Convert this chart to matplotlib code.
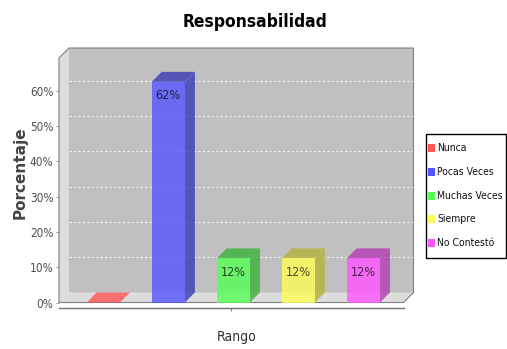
import os
import matplotlib
matplotlib.use("Agg")
import matplotlib.pyplot as plt
from matplotlib.patches import Rectangle, Polygon
import matplotlib.colors as mcolors
import matplotlib.font_manager as fm
import warnings
warnings.filterwarnings("ignore")

# ---- data ----
title = "Responsabilidad"
categories = ["Nunca", "Pocas Veces", "Muchas Veces", "Siempre", "No Contestó"]
values = [0, 62.5, 12.5, 12.5, 12.5]
labels = ["", "62%", "12%", "12%", "12%"]
colors = ["#ff5555", "#5555ff", "#55ff55", "#ffff55", "#ff55ff"]
yticks = [0, 10, 20, 30, 40, 50, 60]
ytick_labels = ["0%", "10%", "20%", "30%", "40%", "50%", "60%"]
xlabel = "Rango"
ylabel = "Porcentaje"

# ---- font selection (narrow face if available) ----
_files = []
try:
    _files += list(fm.findSystemFonts())
except Exception:
    pass
_files += [f.fname for f in fm.fontManager.ttflist]

def pick(cands):
    for c in cands:
        for p in _files:
            if os.path.basename(p).lower() == c.lower():
                return p
    return None

narrow_reg = pick(["LiberationSansNarrow-Regular.ttf", "DejaVuSansCondensed.ttf"])
narrow_bold = pick(["LiberationSansNarrow-Bold.ttf", "DejaVuSansCondensed-Bold.ttf"])
scale = 1.0 if narrow_reg else 0.9

def nfont(size, bold=False):
    p = narrow_bold if bold else narrow_reg
    if p:
        return fm.FontProperties(fname=p, size=size)
    return fm.FontProperties(family=["Liberation Sans", "DejaVu Sans"], size=size * scale,
                             weight="bold" if bold else "normal")

W, H = 507, 349
fig = plt.figure(figsize=(W / 100, H / 100), dpi=100)
fig.patch.set_facecolor("white")

def fx(px):
    return px / W

def fy(py):
    return 1 - py / H

# front plot area in pixels
left_px, right_px = 59, 403.5
zero_px, top_px = 302.5, 58
ax = fig.add_axes([fx(left_px), fy(zero_px), fx(right_px - left_px), (zero_px - top_px) / H])
step = 65.0
c0 = 103.3
xmin = (left_px - c0) / step
xmax = (len(values) - 1) + (right_px - (c0 + step * (len(values) - 1))) / step
ymax = (zero_px - top_px) / 3.53
ax.set_xlim(xmin, xmax)
ax.set_ylim(0, ymax)
ax.patch.set_visible(False)

dx = 10 / step
dy = 10 / 3.53
bw = 33.3 / step

wall = "#dddddd"
back = "#c0c0c0"
outline = "#808080"

# back wall
ax.add_patch(Rectangle((xmin + dx, dy), xmax - xmin, ymax, facecolor=back,
                       edgecolor="none", clip_on=False, zorder=0))
# left side wall
ax.add_patch(Polygon([(xmin, 0), (xmin, ymax), (xmin + dx, ymax + dy), (xmin + dx, dy)],
                     closed=True, facecolor=wall, edgecolor="none", clip_on=False, zorder=0))
# floor
ax.add_patch(Polygon([(xmin, 0), (xmax, 0), (xmax + dx, dy), (xmin + dx, dy)],
                     closed=True, facecolor=wall, edgecolor="none", clip_on=False, zorder=0))
# gridlines on back wall
for t in yticks[1:]:
    ax.plot([xmin + dx, xmax + dx], [t + dy, t + dy], color="#f4f4f4", lw=0.8,
            linestyle=(0, (2, 2)), clip_on=False, zorder=1)
# outline
ax.add_patch(Polygon([(xmin, 0), (xmin, ymax), (xmin + dx, ymax + dy), (xmax + dx, ymax + dy),
                      (xmax + dx, dy), (xmax, 0)], closed=True, facecolor="none",
                     edgecolor=outline, lw=0.8, clip_on=False, zorder=2))

def darker(c):
    r, g, b = mcolors.to_rgb(c)
    return (r * 0.7, g * 0.7, b * 0.7)

for i, (v, c, lab) in enumerate(zip(values, colors, labels)):
    x0, x1 = i - bw / 2, i + bw / 2
    dk = darker(c)
    topc = dk if v > 0 else c
    ax.add_patch(Polygon([(x0, v), (x1, v), (x1 + dx, v + dy), (x0 + dx, v + dy)], closed=True,
                         facecolor=topc, edgecolor="none", alpha=0.8, clip_on=False, zorder=3))
    if v > 0:
        ax.add_patch(Polygon([(x1, 0), (x1 + dx, dy), (x1 + dx, v + dy), (x1, v)], closed=True,
                             facecolor=dk, edgecolor="none", alpha=0.8, clip_on=False, zorder=3))
        ax.add_patch(Rectangle((x0, 0), bw, v, facecolor=c, edgecolor="none", alpha=0.8,
                               clip_on=False, zorder=4))
    if lab:
        ax.text(i, v - 4.0, lab, ha="center", va="center", fontproperties=nfont(9),
                color="black", alpha=0.7, zorder=5)

# axes / ticks
for s in ["top", "right", "left"]:
    ax.spines[s].set_visible(False)
ax.spines["bottom"].set_position(("outward", 3.6))
ax.spines["bottom"].set_color("#707070")
ax.spines["bottom"].set_linewidth(1.0)
ax.set_yticks(yticks)
ax.set_yticklabels(ytick_labels, fontproperties=nfont(8.5), color="#505050")
ax.tick_params(axis="y", direction="out", length=2.5, width=0.6, color="#808080", pad=1.5)
ax.set_xticks([(xmin + xmax) / 2])
ax.set_xticklabels([""])
ax.tick_params(axis="x", direction="out", length=2.5, width=0.6, color="#707070")

# texts
fig.text(fx(255), fy(26.7), title, ha="center", va="baseline",
         fontproperties=nfont(12.5, bold=True), color="black")
fig.text(fx(236.5), fy(341.5), xlabel, ha="center", va="baseline",
         fontproperties=nfont(10), color="#333333")
fig.text(fx(20.5), fy(172.5), ylabel, ha="center", va="center", rotation=90, fontsize=11,
         fontweight="bold", family=["DejaVu Sans"], color="#444444")

# legend
fig.patches.append(Rectangle((fx(425.5), fy(257.5)), fx(506 - 425.5), (257.5 - 133.5) / H,
                             transform=fig.transFigure, facecolor="white", edgecolor="black",
                             lw=1.0, figure=fig))
for k, (name, c) in enumerate(zip(categories, colors)):
    yc = 148 + k * 23.8
    fig.patches.append(Rectangle((fx(428), fy(yc + 4)), fx(7), 8 / H, transform=fig.transFigure,
                                 facecolor=c, edgecolor="none", figure=fig))
    fig.text(fx(437), fy(yc), name, ha="left", va="center", fontproperties=nfont(7.5),
             color="#111111")

fig.savefig("out.png", dpi=100)
